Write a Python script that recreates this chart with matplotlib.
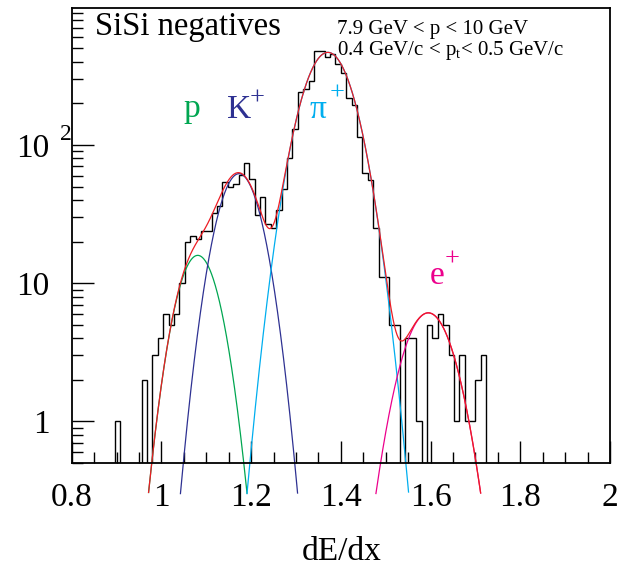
import numpy as np
import matplotlib
matplotlib.use("Agg")
import matplotlib.pyplot as plt
from matplotlib.ticker import FixedLocator, MultipleLocator, NullFormatter

plt.rcParams['font.family'] = ['Liberation Serif', 'DejaVu Serif']
plt.rcParams['mathtext.fontset'] = 'custom'
plt.rcParams['mathtext.rm'] = 'Liberation Serif'
plt.rcParams['mathtext.it'] = 'Liberation Serif:italic'

# === histogram (bins of 0.012 starting at 0.896) ===
bin_start = 0.896
bin_width = 0.012
counts = [1, 0, 0, 0, 0, 2, 0, 3, 4, 6, 5, 6, 10, 20, 22, 21, 24, 24, 32, 36,
          54, 50, 52, 61, 74, 57, 31, 42, 27, 25, 34, 48, 81, 130, 240, 253, 291,
          480, 480, 435, 454, 384, 330, 220, 194, 115, 63, 56, 25, 11, 11, 5, 5,
          0, 4, 4, 1, 0, 5, 4, 6, 5, 3, 1, 3, 1, 1, 2, 3]

# === gaussian fit components ===
species = ["p", "K", "pi", "e"]
amps = [15.9, 62.0, 468.0, 6.1]
means = [1.081, 1.173, 1.371, 1.595]
sigmas = [0.039, 0.040, 0.047, 0.0476]
colors = ["#00a651", "#2e3192", "#00aeef", "#ec008c"]
total_color = "#ed1c24"
cut = 0.3  # curves are not drawn below this

W, H = 619, 568
fig = plt.figure(figsize=(W / 100, H / 100), dpi=100)
ax = fig.add_axes([71.7 / W, 105 / H, 538.3 / W, 455 / H])

# histogram outline, empty bins drop out of the frame
vals = np.array(counts, dtype=float)
vals[vals <= 0] = 1e-3
edges = bin_start + bin_width * np.arange(len(counts) + 1)
ax.stairs(vals, edges, baseline=1e-3, fill=False, color='black', lw=1.0)

# === fit curves ===
x = np.linspace(0.85, 1.85, 3000)
total = np.zeros_like(x)
for a, m, s, c in zip(amps, means, sigmas, colors):
    y = a * np.exp(-0.5 * ((x - m) / s) ** 2)
    total += y
    ax.plot(x, np.where(y >= cut, y, np.nan), color=c, lw=0.9, clip_on=False)
ax.plot(x, np.where(total >= cut, total, np.nan), color=total_color, lw=0.9, clip_on=False)

ax.set_yscale('log')
ax.set_xlim(0.8, 2.0)
ax.set_ylim(0.5, 980)

# === ticks in ROOT style ===
ax.xaxis.set_minor_locator(MultipleLocator(0.05))
ax.set_xticks([0.8, 1.0, 1.2, 1.4, 1.6, 1.8, 2.0])
ax.set_xticklabels(["0.8", "1", "1.2", "1.4", "1.6", "1.8", "2"])
ax.yaxis.set_major_locator(FixedLocator([1, 10, 100]))
minors = [m * 10.0 ** e for e in range(-1, 3) for m in range(2, 10)]
ax.yaxis.set_minor_locator(FixedLocator(minors))
ax.yaxis.set_minor_formatter(NullFormatter())
ax.set_yticklabels(["1", "10", "10"])
ax.tick_params(which='both', direction='in', top=False, right=False, width=1.0, color='black')
ax.tick_params(which='major', length=16)
ax.tick_params(which='minor', length=8)
ax.tick_params(axis='x', labelsize=24, pad=14)
ax.tick_params(axis='y', labelsize=24, pad=16)
for sp in ax.spines.values():
    sp.set_linewidth(1.3)

def px(xp, yp):
    return xp / W, 1 - yp / H

# exponent of the 10^2 label
fig.text(*px(66, 134), "2", fontsize=17, ha='center', va='center')

fig.text(*px(342, 560), "dE/dx", fontsize=24, ha='center', va='baseline')

# === annotations ===
fig.text(*px(95, 35), "SiSi negatives", fontsize=23.5, va='baseline')
fig.text(*px(337, 34), "7.9 GeV < p < 10 GeV", fontsize=15, va='baseline')
fig.text(*px(337, 55), r"0.4 GeV/c < p$_\mathrm{t}$< 0.5 GeV/c", fontsize=15, va='baseline')

fig.text(*px(183, 117), "p", fontsize=24, color=colors[0], va='baseline')
fig.text(*px(227, 118), "K", fontsize=24, color=colors[1], va='baseline')
fig.text(*px(250, 99), "+", fontsize=19, color=colors[1], va='center')
fig.text(*px(310, 118), "\u03c0", fontsize=24, color=colors[2], va='baseline')
fig.text(*px(330, 94), "+", fontsize=19, color=colors[2], va='center')
fig.text(*px(430, 284), "e", fontsize=24, color=colors[3], va='baseline')
fig.text(*px(445, 260), "+", fontsize=19, color=colors[3], va='center')

fig.savefig("out.png", dpi=100)
